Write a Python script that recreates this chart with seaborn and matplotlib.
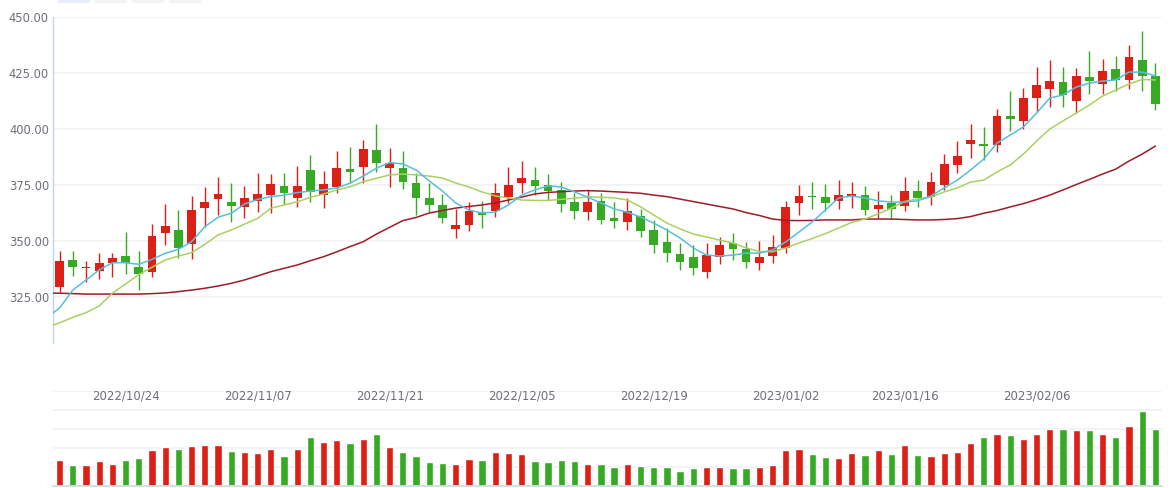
import numpy as np
import pandas as pd
import matplotlib
matplotlib.use("Agg")
import matplotlib.pyplot as plt
import seaborn as sns
from matplotlib.patches import Rectangle

# ---------------- data ----------------
opens = [329.5, 341.5, 338.1, 336.7, 340.4, 343.3, 338.4, 336.3, 353.7, 354.9,
         348.8, 364.9, 368.8, 367.4, 365.3, 368.0, 370.4, 374.6, 369.3, 381.7,
         370.4, 374.3, 382.0, 383.2, 390.6, 382.7, 382.6, 375.8, 369.1, 366.1,
         355.5, 357.3, 363.0, 363.4, 369.8, 376.0, 377.2, 375.0, 372.8, 367.4,
         363.0, 367.9, 360.4, 358.6, 361.2, 354.9, 349.6, 344.2, 342.9, 336.3,
         343.0, 349.0, 346.4, 340.3, 343.4, 347.0, 367.1, 370.1, 369.6, 368.0,
         370.1, 370.5, 364.4, 367.1, 365.8, 372.3, 369.6, 375.0, 384.1, 393.4,
         393.3, 392.9, 405.8, 403.7, 414.0, 418.0, 421.0, 412.6, 423.2, 420.2,
         426.8, 421.9, 430.8, 423.7]
highs = [345.5, 345.5, 341.1, 344.6, 344.6, 354.2, 345.5, 357.6, 366.5, 363.8,
         370.1, 374.1, 378.7, 375.8, 374.7, 380.5, 379.9, 380.5, 383.6, 388.4,
         381.2, 390.2, 392.1, 395.1, 402.2, 391.7, 390.2, 380.5, 375.8, 371.0,
         364.1, 367.3, 367.9, 375.9, 383.2, 385.7, 383.2, 379.9, 376.3, 371.3,
         372.8, 371.6, 367.4, 369.1, 364.1, 359.4, 355.9, 349.0, 348.1, 349.1,
         351.8, 353.6, 349.6, 350.0, 352.7, 367.9, 375.0, 376.2, 375.4, 377.2,
         376.3, 374.6, 372.3, 370.5, 378.6, 377.2, 380.8, 388.8, 394.6, 402.2,
         400.9, 408.9, 417.0, 418.3, 427.7, 430.8, 427.7, 427.2, 434.8, 431.3,
         432.6, 437.5, 443.8, 429.5]
lows = [327.2, 334.4, 331.8, 333.0, 334.1, 335.3, 328.1, 334.1, 348.2, 342.5,
        342.0, 356.4, 361.6, 358.6, 360.4, 363.1, 362.4, 366.1, 365.3, 367.5,
        364.6, 371.3, 375.8, 376.0, 380.9, 374.0, 373.1, 361.5, 362.8, 358.2,
        351.5, 354.5, 355.9, 360.9, 366.8, 371.3, 370.5, 368.3, 362.8, 359.8,
        359.4, 357.7, 355.9, 355.1, 351.9, 344.8, 340.8, 337.1, 334.8, 333.6,
        339.9, 341.7, 337.9, 337.2, 340.3, 344.8, 361.7, 364.4, 363.5, 364.4,
        364.9, 361.7, 360.4, 359.8, 363.5, 365.3, 366.2, 372.8, 380.2, 387.2,
        386.2, 389.7, 399.1, 400.0, 407.6, 410.0, 410.0, 407.1, 415.6, 415.6,
        417.0, 417.9, 417.0, 408.5]
closes = [341.1, 338.5, 338.5, 340.2, 342.4, 340.0, 335.4, 352.2, 356.7, 346.9,
          363.8, 367.4, 371.0, 365.8, 369.2, 371.0, 375.4, 371.6, 374.6, 371.7,
          375.4, 382.5, 380.9, 391.1, 385.0, 384.7, 376.3, 369.1, 366.2, 360.4,
          357.1, 363.4, 361.7, 371.3, 375.0, 378.0, 374.7, 372.5, 366.5, 363.5,
          367.4, 359.4, 359.1, 363.4, 354.6, 348.3, 344.8, 340.8, 338.1, 343.8,
          348.2, 346.4, 340.8, 342.9, 347.3, 365.2, 370.1, 369.8, 367.1, 370.5,
          371.0, 364.0, 366.1, 364.4, 372.3, 369.2, 376.3, 384.4, 388.0, 395.1,
          392.5, 405.8, 404.6, 413.8, 419.6, 421.4, 415.3, 423.7, 421.6, 425.9,
          421.9, 432.1, 423.7, 411.2]
volumes = [137, 111, 111, 132, 116, 137, 147, 189, 205, 195,
           211, 216, 216, 184, 179, 174, 195, 158, 195, 258,
           232, 242, 226, 247, 274, 205, 179, 158, 126, 121,
           116, 142, 137, 179, 174, 168, 132, 126, 137, 132,
           116, 116, 100, 116, 105, 100, 100, 79, 95, 100,
           100, 95, 95, 100, 111, 189, 195, 168, 153, 147,
           174, 163, 189, 168, 216, 163, 158, 174, 179, 226,
           258, 274, 268, 247, 274, 300, 300, 295, 295, 274,
           258, 316, 395, 300]
# moving averages, first value is the session before the visible window
ma5 = [315.6, 320.1, 328.1, 332.6, 337.1, 340.3, 340.3, 339.6, 341.8, 344.5, 346.3,
       349.7, 356.4, 360.6, 362.4, 366.5, 368.6, 369.8, 370.5, 371.6, 372.3,
       372.8, 373.7, 375.8, 379.0, 382.5, 385.0, 384.4, 381.7, 376.8, 372.3,
       367.0, 363.8, 362.5, 362.9, 366.1, 370.5, 372.8, 374.6, 374.1, 371.9,
       369.6, 367.0, 364.3, 362.9, 360.7, 358.0, 354.9, 351.3, 346.9, 343.7,
       343.3, 343.7, 344.6, 344.6, 346.0, 349.6, 354.0, 358.5, 363.8, 369.2,
       370.1, 369.2, 367.9, 367.4, 367.4, 367.9, 370.1, 373.7, 377.2, 381.7,
       386.6, 393.7, 397.3, 400.9, 407.1, 413.8, 415.2, 418.7, 420.5, 421.4,
       421.9, 425.4, 425.4, 423.7]
ma10 = [311.4, 313.5, 315.9, 318.0, 321.0, 326.7, 330.8, 335.0, 338.3, 341.5, 343.3,
        344.8, 348.5, 352.7, 354.9, 357.5, 360.1, 364.6, 366.1, 367.5, 369.5,
        371.0, 372.8, 374.2, 376.5, 378.0, 379.5, 379.9, 379.5, 379.0, 378.1,
        375.9, 374.1, 371.9, 370.1, 369.2, 368.3, 368.1, 368.1, 368.6, 369.1,
        369.8, 369.5, 369.3, 368.3, 365.3, 361.6, 358.0, 355.4, 353.1, 351.8,
        350.4, 349.1, 346.9, 345.3, 345.2, 346.9, 349.1, 351.1, 353.3, 355.8,
        358.3, 359.8, 362.1, 364.7, 367.6, 368.8, 369.6, 371.9, 373.7, 376.3,
        377.2, 380.8, 383.9, 388.8, 394.6, 400.0, 403.6, 407.1, 410.7, 414.7,
        417.4, 420.1, 422.1, 421.9]
ma30 = [326.7, 326.7, 326.5, 326.3, 326.3, 326.3, 326.3, 326.3, 326.5, 326.8, 327.4,
        328.1, 328.9, 329.9, 331.1, 332.6, 334.4, 336.3, 337.8, 339.3, 341.2,
        343.0, 345.2, 347.5, 349.7, 353.1, 356.1, 359.1, 360.5, 362.5, 363.6,
        364.7, 365.4, 366.1, 367.0, 368.3, 369.6, 371.0, 371.7, 372.0, 372.3,
        372.5, 372.3, 372.0, 371.7, 371.3, 370.5, 369.8, 368.7, 367.6, 366.5,
        365.4, 364.3, 362.7, 361.4, 359.8, 359.2, 359.1, 359.2, 359.4, 359.4,
        359.4, 359.8, 359.8, 359.8, 359.6, 359.4, 359.4, 359.6, 360.0, 360.9,
        362.4, 363.6, 365.2, 366.7, 368.5, 370.5, 372.8, 375.2, 377.5, 379.9,
        382.1, 385.7, 388.8, 392.4]
tick_labels = ["2022/10/24", "2022/11/07", "2022/11/21", "2022/12/05",
               "2022/12/19", "2023/01/02", "2023/01/16", "2023/02/06"]
closed_days = ["2023-01-10", "2023-01-23", "2023-01-24", "2023-01-25",
               "2023-01-26", "2023-01-27"]
price_ticks = [325, 350, 375, 400, 425, 450]

# ---------------- derived tables ----------------
dates = [d for d in pd.bdate_range("2022-10-17", "2023-02-17")
         if d.strftime("%Y-%m-%d") not in closed_days]
date_str = [d.strftime("%Y/%m/%d") for d in dates]
n = len(closes)
idx = np.arange(n)
tick_pos = [date_str.index(t) for t in tick_labels if t in date_str]
tick_txt = [t for t in tick_labels if t in date_str]

RED = "#dc2016"
GREEN = "#36aa22"
df = pd.DataFrame({"idx": idx, "open": opens, "high": highs, "low": lows,
                   "close": closes, "vol": volumes})
df["dir"] = np.where(df["close"] > df["open"], "up", "down")
df["color"] = np.where(df["dir"] == "up", RED, GREEN)

ma_x = np.arange(-1, n)
ma_df = pd.DataFrame({"x": ma_x, "ma5": ma5, "ma10": ma10, "ma30": ma30})

# ---------------- figure ----------------
sns.set_theme(style="white")
plt.rcParams["font.family"] = ["DejaVu Sans"]
W, H = 1171, 488
fig = plt.figure(figsize=(W / 100, H / 100), dpi=100)
fig.patch.set_facecolor("white")

def fx(px):
    return px / W

def fy(py):
    return 1 - py / H

ax = fig.add_axes([fx(53), fy(343), fx(1162) - fx(53), fy(17) - fy(343)])
axv = fig.add_axes([fx(53), fy(486), fx(1162) - fx(53), fy(391) - fy(486)])

# price panel
for yv in price_ticks:
    ax.axhline(yv, color="#f2f2f2", lw=1.3, zorder=0)
ax.vlines(df["idx"], df["low"], df["high"], colors=df["color"], lw=1.0, zorder=2)
body_h = np.maximum((df["close"] - df["open"]).abs(), 0.45)
ax.bar(df["idx"], body_h, bottom=np.minimum(df["open"], df["close"]),
       width=0.66, color=df["color"], linewidth=0, zorder=2)

sns.lineplot(data=ma_df, x="x", y="ma30", ax=ax, color="#9e1b2a", lw=1.1, zorder=3)
sns.lineplot(data=ma_df, x="x", y="ma10", ax=ax, color="#a9d162", lw=1.1, zorder=3)
sns.lineplot(data=ma_df, x="x", y="ma5", ax=ax, color="#56bfdd", lw=1.1, zorder=3)

ax.set_xlim(-0.5, n - 0.5)
ax.set_ylim(450 - 326 / 2.24, 450)
ax.set_yticks(price_ticks)
ax.set_yticklabels([f"{v:.2f}" for v in price_ticks])
ax.set_xticks([])
ax.set_xlabel("")
ax.set_ylabel("")
ax.tick_params(axis="y", length=0, pad=3, labelsize=8.3, labelcolor="#6e7079")
for s in ["top", "right", "bottom"]:
    ax.spines[s].set_visible(False)
ax.spines["left"].set_color("#c2d4ea")
ax.spines["left"].set_linewidth(1.0)

# volume panel
for yv in [100, 200, 300, 400, 500]:
    axv.axhline(yv, color="#f0f3f7", lw=1.3, zorder=0)
sns.barplot(data=df, x="idx", y="vol", hue="dir",
            palette={"up": RED, "down": GREEN}, dodge=False, width=0.55,
            saturation=1, errorbar=None, legend=False, ax=axv, zorder=2)
axv.set_xlim(-0.5, n - 0.5)
axv.set_ylim(0, 500)
axv.set_yticks([])
axv.set_xlabel("")
axv.set_ylabel("")
axv.set_xticks(tick_pos)
axv.set_xticklabels(tick_txt)
axv.tick_params(axis="x", top=True, bottom=False, labeltop=True, labelbottom=False,
                length=0, pad=-8, labelsize=8.5, labelcolor="#6e7079")
for s in ["top", "right", "left"]:
    axv.spines[s].set_visible(False)
axv.spines["bottom"].set_color("#d3dae4")
axv.spines["bottom"].set_linewidth(1.3)

# faint legend buttons cut off at the top edge
for (x0, x1, c) in [(58, 90, "#e8eef8"), (95, 127, "#f4f4f4"),
                    (132, 164, "#f4f4f4"), (169, 201, "#f4f4f4")]:
    fig.add_artist(Rectangle((fx(x0), fy(3)), fx(x1) - fx(x0), fy(0) - fy(3),
                             transform=fig.transFigure, color=c, lw=0))

fig.savefig("out.png", dpi=100, facecolor="white")
